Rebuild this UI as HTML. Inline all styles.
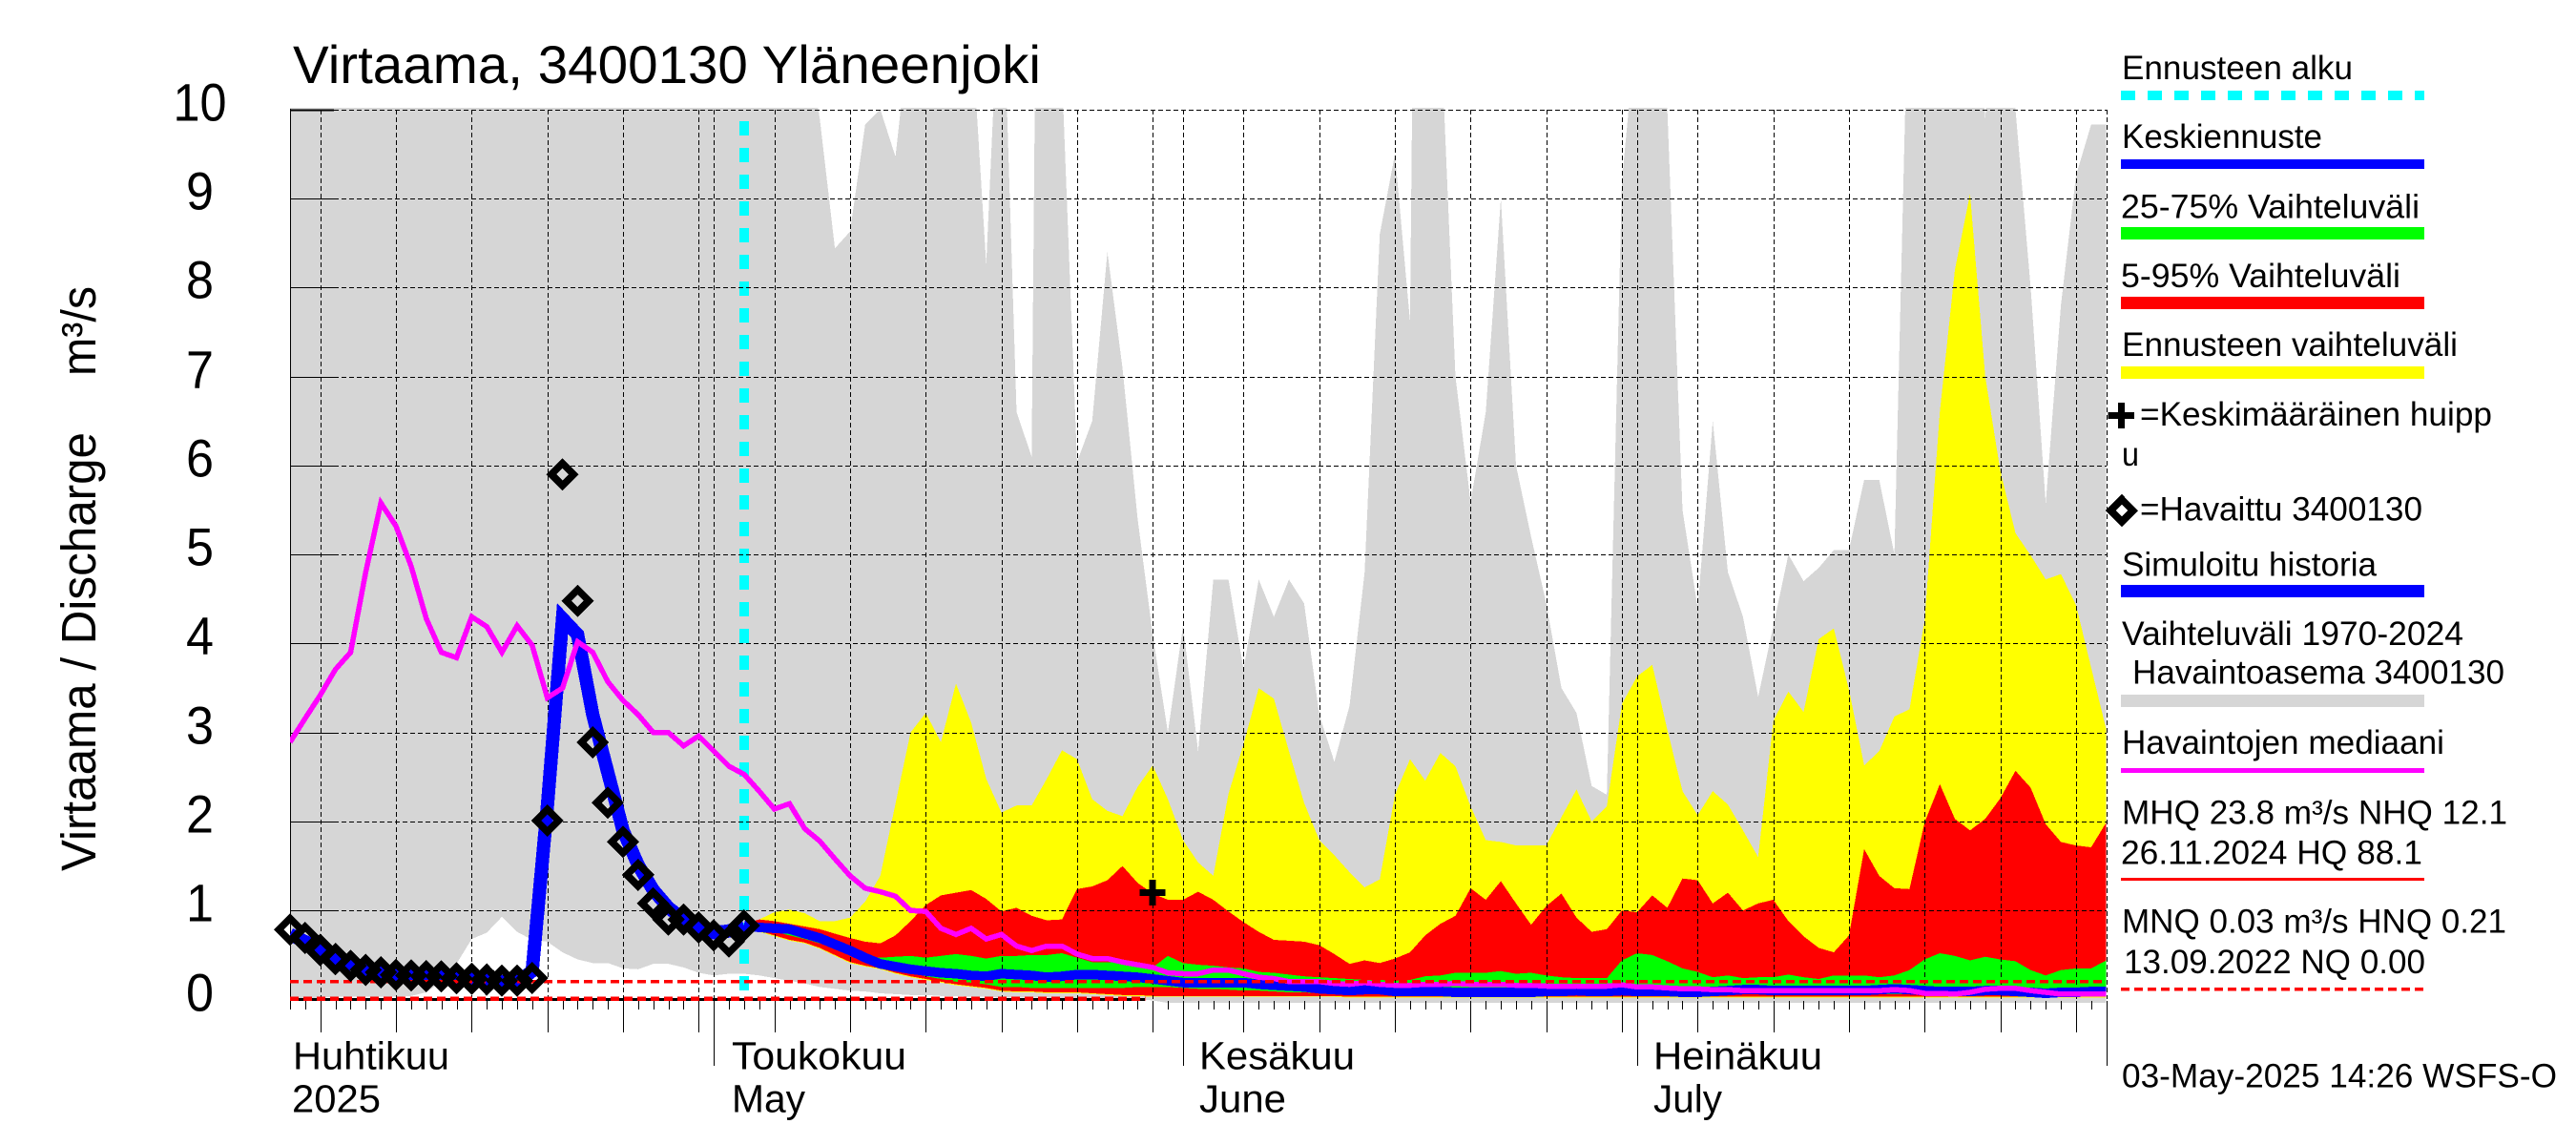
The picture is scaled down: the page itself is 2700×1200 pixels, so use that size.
<!DOCTYPE html>
<html lang="fi">
<head>
<meta charset="utf-8">
<title>Virtaama, 3400130 Yläneenjoki</title>
<style>
html,body{margin:0;padding:0;background:#fff;}
svg{display:block;}
text{font-family:"Liberation Sans",Arial,sans-serif;fill:#000;}
</style>
</head>
<body>
<svg xmlns="http://www.w3.org/2000/svg" width="2700" height="1200" viewBox="0 0 2700 1200">
<defs><clipPath id="plot-clip"><rect x="304" y="113" width="1904" height="940"/></clipPath></defs>
<rect x="0" y="0" width="2700" height="1200" fill="#fff"/>

<g id="marks-under" clip-path="url(#plot-clip)" shape-rendering="crispEdges"></g>
<g id="axes" shape-rendering="crispEdges"></g>
<g id="marks-over" clip-path="url(#plot-clip)" shape-rendering="crispEdges"></g>
<g id="markers" shape-rendering="crispEdges"></g>
<g id="y-ticks"></g>

<text x="307" y="87" font-size="56" textLength="784" lengthAdjust="spacingAndGlyphs">Virtaama, 3400130 Yläneenjoki</text>

<text transform="translate(100 913) rotate(-90)" font-size="51" textLength="460" lengthAdjust="spacingAndGlyphs">Virtaama / Discharge</text>
<text transform="translate(100 394) rotate(-90)" font-size="51" textLength="94" lengthAdjust="spacingAndGlyphs">m³/s</text>

<text x="307" y="1120.5" font-size="41" textLength="164" lengthAdjust="spacingAndGlyphs">Huhtikuu</text>
<text x="306" y="1165.5" font-size="41" textLength="93" lengthAdjust="spacingAndGlyphs">2025</text>
<text x="767" y="1120.5" font-size="41" textLength="183" lengthAdjust="spacingAndGlyphs">Toukokuu</text>
<text x="767" y="1165.5" font-size="41" textLength="77" lengthAdjust="spacingAndGlyphs">May</text>
<text x="1257" y="1120.5" font-size="41" textLength="163" lengthAdjust="spacingAndGlyphs">Kesäkuu</text>
<text x="1257" y="1165.5" font-size="41" textLength="91" lengthAdjust="spacingAndGlyphs">June</text>
<text x="1733" y="1120.5" font-size="41" textLength="177" lengthAdjust="spacingAndGlyphs">Heinäkuu</text>
<text x="1733" y="1165.5" font-size="41" textLength="72" lengthAdjust="spacingAndGlyphs">July</text>

<g font-size="35">
  <text x="2224" y="83" textLength="242" lengthAdjust="spacingAndGlyphs">Ennusteen alku</text>
  <line x1="2223" y1="100" x2="2541" y2="100" stroke="#00ffff" stroke-width="10" stroke-dasharray="15 13" shape-rendering="crispEdges"/>
  <text x="2224" y="155" textLength="210" lengthAdjust="spacingAndGlyphs">Keskiennuste</text>
  <rect x="2223" y="167" width="318" height="10" fill="#0000ff" shape-rendering="crispEdges"/>
  <text x="2223" y="228.5" textLength="313" lengthAdjust="spacingAndGlyphs">25-75% Vaihteluväli</text>
  <rect x="2223" y="238" width="318" height="13" fill="#00ff00" shape-rendering="crispEdges"/>
  <text x="2223" y="301" textLength="293" lengthAdjust="spacingAndGlyphs">5-95% Vaihteluväli</text>
  <rect x="2223" y="311" width="318" height="13" fill="#ff0000" shape-rendering="crispEdges"/>
  <text x="2224" y="373" textLength="352" lengthAdjust="spacingAndGlyphs">Ennusteen vaihteluväli</text>
  <rect x="2223" y="384" width="318" height="13" fill="#ffff00" shape-rendering="crispEdges"/>
  <path d="M2209.5 435.5H2237M2223.5 422V449" stroke="#000" stroke-width="7" fill="none" shape-rendering="crispEdges"/>
  <text x="2243" y="446" textLength="369" lengthAdjust="spacingAndGlyphs">=Keskimääräinen huipp</text>
  <text x="2224" y="488" textLength="18" lengthAdjust="spacingAndGlyphs">u</text>
  <path d="M2224 523.3L2235.7 535L2224 546.7L2212.3 535Z" stroke="#000" stroke-width="7.5" fill="none" shape-rendering="crispEdges"/>
  <text x="2243" y="545.5" textLength="296" lengthAdjust="spacingAndGlyphs">=Havaittu 3400130</text>
  <text x="2224" y="603.5" textLength="267" lengthAdjust="spacingAndGlyphs">Simuloitu historia</text>
  <rect x="2223" y="613" width="318" height="13" fill="#0000ff" shape-rendering="crispEdges"/>
  <text x="2224" y="676" textLength="358" lengthAdjust="spacingAndGlyphs">Vaihteluväli 1970-2024</text>
  <text x="2235" y="716.5" textLength="390" lengthAdjust="spacingAndGlyphs">Havaintoasema 3400130</text>
  <rect x="2223" y="728" width="318" height="13" fill="#d6d6d6" shape-rendering="crispEdges"/>
  <text x="2224" y="790" textLength="338" lengthAdjust="spacingAndGlyphs">Havaintojen mediaani</text>
  <rect x="2223" y="805" width="318" height="5" fill="#ff00ff" shape-rendering="crispEdges"/>
  <text x="2224" y="863.5" textLength="404" lengthAdjust="spacingAndGlyphs">MHQ 23.8 m³/s NHQ 12.1</text>
  <text x="2223" y="905.5" textLength="316" lengthAdjust="spacingAndGlyphs">26.11.2024 HQ 88.1</text>
  <rect x="2223" y="920" width="318" height="3" fill="#ff0000" shape-rendering="crispEdges"/>
  <text x="2224" y="977.5" textLength="403" lengthAdjust="spacingAndGlyphs">MNQ 0.03 m³/s HNQ 0.21</text>
  <text x="2226" y="1020" textLength="316" lengthAdjust="spacingAndGlyphs">13.09.2022 NQ 0.00</text>
  <line x1="2223" y1="1036.5" x2="2541" y2="1036.5" stroke="#ff0000" stroke-width="3.5" stroke-dasharray="9 5" shape-rendering="crispEdges"/>
  <text x="2224" y="1139.5" textLength="456" lengthAdjust="spacingAndGlyphs">03-May-2025 14:26 WSFS-O</text>
</g>

<script>
// Day offsets count from 3 April 2025 (day 0) to 31 July 2025 (day 120).
var yTickLabels = [0,1,2,3,4,5,6,7,8,9,10];
var gridDays = [2,7,12,17,22,27,32,37,42,47,52,57,63,68,73,78,83,88,93,98,103,108,113,118];
var monthStartDays = [28,59,89];
var lastDay = 120;
var forecastStartDay = 30;
var hnqValue = 0.21;
var nqValue = 0;
var meanPeakDay = 57;
var meanPeakValue = 1.2;

var rangeUpper = [
 11,11,11,11,11,11,11,11,11,11,
 11,11,11,11,11,11,11,11,11,11,
 11,11,11,11,11,11,11,11,11,11,
 11,11,11,11,11,9.9,8.44,8.63,9.83,10.0,
 9.47,11,11,11,11,11,8.26,12,6.6,6.1,
 25,10.4,6.04,6.5,8.4,7.1,5.4,4.1,3.0,4.2,
 2.79,4.72,4.72,3.71,4.72,4.3,4.72,4.45,3.2,2.67,
 3.3,4.8,8.6,9.5,7.62,25,11,7.0,5.59,6.6,
 9.0,6.0,5.2,4.45,3.5,3.22,2.4,2.3,9.2,11,
 11,10,5.5,4.4,6.5,4.8,4.3,3.4,4.2,5.0,
 4.7,4.85,5.05,5.05,5.84,5.84,5.0,12,12,12,
 12,12,9.9,12,10,8,5.57,7.8,9.26,9.83,9.83];
var rangeLower = [
 0,0,.02,.03,.03,.03,.03,.03,.04,.08,
 .2,.4,.68,.75,.93,.76,.67,.65,.53,.45,
 .41,.41,.35,.34,.4,.4,.36,.3,.27,.29,
 .29,.27,.24,.21,.18,.14,.12,.1,.09,.07,
 .06,.05,.05,.04,.04,.03,.03,.02,.02,.02,
 .02,.01,.01,.01,.01,0,0,-.01,-.04,-.04,
 -.04,-.04,-.04,-.04,-.04,-.04,-.04,-.04,-.04,-.04,
 -.04,-.04,-.04,-.04,-.04,-.04,-.04,-.04,-.04,-.04,
 -.04,-.04,-.04,-.04,-.04,-.04,-.04,-.04,-.04,-.04,
 -.04,-.04,-.04,-.04,-.04,-.04,-.04,-.04,-.04,-.04,
 -.04,-.04,-.04,-.04,-.04,-.04,-.04,-.04,-.04,-.04,
 -.04,-.04,-.04,-.04,-.04,-.04,-.04,-.04,-.04,-.04,-.04];

// Forecast series, one value per day from day 30 to day 120.
var forecastMaxUpper = [
 .82,.9,.98,1.01,.97,.88,.88,.92,1.1,1.39,
 2.2,3.0,3.22,2.89,3.55,3.11,2.48,2.1,2.18,2.18,
 2.48,2.8,2.7,2.25,2.12,2.06,2.39,2.63,2.25,1.79,
 1.54,1.39,2.31,2.87,3.5,3.38,2.79,2.21,1.79,1.62,
 1.43,1.26,1.35,2.3,2.7,2.46,2.77,2.62,2.17,1.79,
 1.77,1.73,1.73,1.73,2.05,2.36,2.0,2.17,3.32,3.63,
 3.76,3.03,2.34,2.07,2.34,2.19,1.9,1.6,3.13,3.46,
 3.23,4.05,4.17,3.48,2.63,2.79,3.18,3.26,4.26,6.6,
 8.2,9.05,7.0,5.94,5.24,4.99,4.72,4.78,4.43,3.73,3.03];
var forecastMaxLower = [
 .8,.76,.71,.66,.63,.57,.49,.41,.37,.34,
 .29,.25,.22,.19,.16,.14,.12,.09,.08,.08,
 .07,.07,.07,.06,.05,.04,.04,.03,.03,.03,
 .03,.03,.03,.03,.03,.03,.03,.03,.03,.03,
 .02,.02,.02,.02,.02,.02,.02,.02,.02,.02,
 .02,.02,.02,.02,.02,.02,.02,.02,.02,.02,
 .02,.02,.02,.02,.02,.02,.02,.02,.02,.02,
 .02,.02,.02,.02,.02,.02,.02,.02,.02,.02,
 .02,.02,.02,.02,.02,.02,.02,.02,.02,.02,.02];
var p95Upper = [
 .85,.9,.88,.85,.82,.79,.74,.69,.65,.63,
 .72,.88,1.06,1.17,1.2,1.23,1.13,.99,1.03,.94,
 .89,.9,1.24,1.27,1.34,1.5,1.31,1.19,1.12,1.12,
 1.21,1.12,.99,.87,.76,.67,.66,.65,.61,.51,
 .4,.44,.41,.46,.53,.72,.85,.94,1.25,1.12,
 1.33,1.08,.84,1.05,1.19,.92,.76,.79,1.0,.98,
 1.17,1.03,1.36,1.34,1.08,1.2,1.0,1.08,1.12,.88,
 .71,.58,.53,.72,1.69,1.39,1.25,1.24,1.99,2.42,
 2.03,1.9,2.03,2.26,2.57,2.38,1.97,1.77,1.73,1.71,1.99];
var p5Lower = [
 .8,.77,.72,.67,.64,.58,.5,.42,.38,.35,
 .3,.26,.23,.2,.17,.15,.13,.1,.09,.09,
 .08,.08,.08,.07,.06,.05,.05,.04,.04,.04,
 .04,.04,.04,.04,.04,.04,.04,.04,.04,.04,
 .03,.03,.03,.03,.03,.03,.03,.03,.03,.03,
 .03,.03,.03,.03,.03,.03,.03,.03,.03,.03,
 .03,.03,.03,.03,.03,.03,.03,.03,.03,.03,
 .03,.03,.03,.03,.03,.03,.03,.03,.03,.03,
 .03,.03,.03,.03,.03,.03,.03,.03,.03,.03,.03];
var p75Upper = [
 .83,.81,.8,.79,.74,.7,.62,.55,.48,.47,
 .48,.49,.47,.49,.51,.49,.46,.49,.49,.5,
 .5,.52,.47,.42,.42,.42,.4,.36,.49,.41,
 .39,.38,.36,.35,.31,.3,.28,.26,.25,.24,
 .23,.22,.22,.21,.22,.26,.27,.3,.3,.3,
 .32,.29,.3,.27,.25,.24,.24,.24,.44,.52,
 .5,.43,.35,.31,.25,.27,.24,.25,.25,.28,
 .25,.23,.27,.27,.27,.25,.27,.33,.45,.52,
 .49,.44,.48,.45,.43,.33,.27,.33,.35,.35,.44];
var p25Lower = [
 .83,.8,.76,.72,.68,.63,.57,.5,.44,.38,
 .34,.3,.26,.23,.2,.19,.17,.14,.14,.13,
 .13,.13,.13,.13,.13,.13,.14,.14,.14,.13,
 .12,.12,.11,.1,.1,.09,.08,.08,.07,.07,
 .06,.06,.06,.06,.06,.06,.06,.06,.06,.06,
 .06,.06,.06,.06,.06,.06,.06,.06,.06,.06,
 .06,.06,.06,.06,.06,.06,.06,.06,.06,.06,
 .06,.06,.06,.06,.06,.06,.06,.06,.06,.06,
 .06,.06,.06,.06,.06,.06,.06,.06,.06,.06,.06];
var meanForecast = [
 .83,.81,.8,.79,.74,.69,.62,.55,.47,.4,
 .37,.34,.32,.3,.29,.27,.26,.29,.28,.27,
 .25,.26,.28,.28,.27,.26,.25,.23,.21,.19,
 .19,.19,.19,.19,.17,.16,.15,.14,.12,.11,
 .1,.11,.11,.09,.09,.09,.09,.08,.08,.08,
 .08,.08,.08,.09,.09,.1,.09,.09,.1,.09,
 .09,.09,.08,.08,.09,.1,.11,.11,.1,.1,
 .1,.1,.1,.1,.1,.11,.12,.11,.1,.09,
 .09,.09,.1,.1,.09,.08,.07,.08,.08,.09,.09];

// History, one value per day from day 0 to day 30.
var simulatedHistory = [
 .73,.65,.55,.46,.4,.33,.31,.28,.27,.26,
 .26,.25,.24,.22,.2,.19,.32,2.17,4.28,4.1,
 3.2,2.55,1.9,1.51,1.23,1.03,.9,.81,.75,.77,.83];
var observed = [
 .785,.69,.555,.455,.38,.33,.305,.277,.27,.263,
 .26,.24,.234,.223,.21,.21,.24,2.01,5.9,4.48,
 2.89,2.21,1.77,1.4,1.08,.9,.9,.81,.72,.65,.83];

// Observed median, one value per day from day 0 to day 120.
var median = [
 2.89,3.16,3.42,3.71,3.9,4.8,5.58,5.32,4.87,4.28,
 3.9,3.84,4.3,4.19,3.9,4.2,3.98,3.39,3.5,4.02,
 3.9,3.57,3.36,3.2,3.0,3.0,2.85,2.96,2.79,2.62,
 2.53,2.34,2.14,2.2,1.92,1.78,1.58,1.39,1.25,1.21,
 1.16,1.0,.99,.8,.73,.8,.68,.73,.6,.55,
 .6,.6,.51,.46,.46,.42,.39,.36,.3,.29,
 .29,.33,.33,.29,.25,.235,.2,.2,.2,.18,
 .17,.19,.17,.16,.16,.17,.17,.18,.17,.17,
 .17,.16,.16,.15,.145,.15,.15,.15,.165,.14,
 .14,.13,.12,.12,.11,.11,.1,.1,.1,.1,
 .1,.1,.1,.1,.1,.1,.11,.1,.07,.07,
 .06,.08,.115,.125,.125,.1,.08,.06,.06,.06,.06];

var SVG_NS = 'http://www.w3.org/2000/svg';
function xScale(day){ return 304 + day * 15.864; }
function yScale(value){ return 1047.5 - value * 93.27; }

function linePath(startDay, values){
  var parts = [];
  for (var i = 0; i < values.length; i++){
    parts.push((i ? 'L' : 'M') + xScale(startDay + i).toFixed(1) + ' ' + yScale(values[i]).toFixed(1));
  }
  return parts.join('');
}
function bandPath(startDay, upper, lower){
  var parts = [];
  for (var i = 0; i < upper.length; i++){
    parts.push((i ? 'L' : 'M') + xScale(startDay + i).toFixed(1) + ' ' + yScale(upper[i]).toFixed(1));
  }
  for (var j = lower.length - 1; j >= 0; j--){
    parts.push('L' + xScale(startDay + j).toFixed(1) + ' ' + yScale(lower[j]).toFixed(1));
  }
  return parts.join('') + 'Z';
}
function addPath(parent, d, fill, stroke, width, dash){
  var el = document.createElementNS(SVG_NS, 'path');
  el.setAttribute('d', d);
  el.setAttribute('fill', fill);
  if (stroke){
    el.setAttribute('stroke', stroke);
    el.setAttribute('stroke-width', width);
    el.setAttribute('stroke-linejoin', 'miter');
    el.setAttribute('stroke-miterlimit', '3');
  }
  if (dash){ el.setAttribute('stroke-dasharray', dash); }
  parent.appendChild(el);
  return el;
}

var under = document.getElementById('marks-under');
var axes = document.getElementById('axes');
var over = document.getElementById('marks-over');
var markers = document.getElementById('markers');
var yTicksGroup = document.getElementById('y-ticks');

// Filled bands
var rangeBand = addPath(under, bandPath(0, rangeUpper, rangeLower), '#d6d6d6');



var yellowBand = addPath(under, bandPath(forecastStartDay, forecastMaxUpper, forecastMaxLower), '#ffff00');



var redBand = addPath(under, bandPath(forecastStartDay, p95Upper, p5Lower), '#ff0000');



var greenBand = addPath(under, bandPath(forecastStartDay, p75Upper, p25Lower), '#00ff00');



// Forecast start marker
var startLine = addPath(under, 'M' + xScale(forecastStartDay).toFixed(1) + ' 127V1047', 'none', '#00ffff', 10, '15 13');



// Horizontal grid and y tick labels
yTickLabels.forEach(function(v){
  var y = Math.round(yScale(v)) + 0.5;
  if (v > 0){
    var grid = addPath(axes, 'M350 ' + y + 'H2208', 'none', '#000', 1, '5 3');
    
    
    var tick = addPath(axes, 'M304 ' + y + 'H350', 'none', '#000', v === 10 ? 2 : 1);
    
    
  }
  var label = document.createElementNS(SVG_NS, 'text');
  
  
  label.setAttribute('x', 209.5);
  label.setAttribute('y', y + 11);
  label.setAttribute('font-size', '56');
  label.setAttribute('text-anchor', 'middle');
  label.setAttribute('textLength', v === 10 ? 56 : 29);
  label.setAttribute('lengthAdjust', 'spacingAndGlyphs');
  label.textContent = String(v);
  yTicksGroup.appendChild(label);
});

// Vertical grid
gridDays.concat(monthStartDays, [lastDay]).forEach(function(day){
  var x = Math.round(xScale(day)) + 0.5;
  var grid = addPath(axes, 'M' + x + ' 115V1047', 'none', '#000', 1, '5 3');
  
  
});
var yAxis = addPath(axes, 'M304.5 114V1048', 'none', '#000', 1);



// X ticks below the plot
for (var d = 0; d <= lastDay; d++){
  var tx = Math.round(xScale(d)) + 0.5;
  var minorTick = addPath(axes, 'M' + tx + ' 1049V1058', 'none', '#000', 1);
  
  
}
gridDays.forEach(function(day){
  var x = Math.round(xScale(day)) + 0.5;
  var majorTick = addPath(axes, 'M' + x + ' 1049V1082', 'none', '#000', 1);
  
  
});
monthStartDays.concat([lastDay]).forEach(function(day){
  var x = Math.round(xScale(day)) + 0.5;
  var monthTick = addPath(axes, 'M' + x + ' 1049V1117', 'none', '#000', 1);
  
  
});

// Baseline and NQ reference line
var xAxisBase = addPath(over, 'M304 ' + yScale(nqValue).toFixed(1) + 'H' + xScale(56.5).toFixed(1), 'none', '#000', 3);



var nqLine = addPath(over, 'M304 ' + (yScale(nqValue) - 0.8).toFixed(1) + 'H' + xScale(56.5).toFixed(1), 'none', '#ff0000', 4.5, '9 5');



// Lines
var historyLine = addPath(over, linePath(0, simulatedHistory), 'none', '#0000ff', 14);



var meanLine = addPath(over, linePath(forecastStartDay, meanForecast), 'none', '#0000ff', 10);



var medianLine = addPath(over, linePath(0, median), 'none', '#ff00ff', 5.5);



var hnqLine = addPath(over, 'M304 ' + (yScale(hnqValue) + 0.6).toFixed(1) + 'H2208', 'none', '#ff0000', 3.5, '9 5');



// Observed diamonds
observed.forEach(function(value, i){
  var cx = xScale(i);
  var cy = yScale(value);
  var diamond = addPath(markers, 'M' + cx.toFixed(1) + ' ' + (cy - 11.7).toFixed(1) +
    'L' + (cx + 11.7).toFixed(1) + ' ' + cy.toFixed(1) +
    'L' + cx.toFixed(1) + ' ' + (cy + 11.7).toFixed(1) +
    'L' + (cx - 11.7).toFixed(1) + ' ' + cy.toFixed(1) + 'Z', 'none', '#000', 7.5);
  
  
});

// Mean peak cross
var peakX = xScale(meanPeakDay);
var peakY = yScale(meanPeakValue);
var peakCross = addPath(markers, 'M' + (peakX - 13.5).toFixed(1) + ' ' + peakY.toFixed(1) + 'H' + (peakX + 13.5).toFixed(1) +
  'M' + peakX.toFixed(1) + ' ' + (peakY - 13.5).toFixed(1) + 'V' + (peakY + 13.5).toFixed(1), 'none', '#000', 7);


</script>
</svg>
</body>
</html>
